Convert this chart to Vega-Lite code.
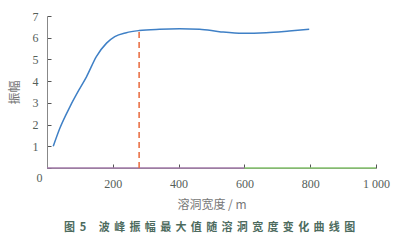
{
  "$schema": "https://vega.github.io/schema/vega-lite/v6.json",
  "width": 329,
  "height": 152,
  "autosize": {"type": "none"},
  "padding": {"left": 47, "top": 16, "right": 24, "bottom": 76},
  "background": "white",
  "config": {
    "view": {"stroke": null},
    "axis": {
      "labelOverlap": false,
      "labelFlush": false,
      "labelBound": false,
      "grid": false,
      "tickSize": -4,
      "tickColor": "#555",
      "domainColor": "#888",
      "labelFont": "Liberation Serif",
      "labelFontSize": 12,
      "labelColor": "#55605a",
      "titleFont": "Noto Sans CJK SC",
      "titleFontSize": 12,
      "titleFontWeight": "normal",
      "titleColor": "#777"
    }
  },
  "title": {
    "text": "图\u00a0\u00a05\u00a0\u00a0\u00a0\u00a0\u00a0波\u00a0\u2006峰\u00a0\u2006振\u00a0\u2006幅\u00a0\u2006最\u00a0\u2006大\u00a0\u2006值\u00a0\u2006随\u00a0\u2006溶\u00a0\u2006洞\u00a0\u2006宽\u00a0\u2006度\u00a0\u2006变\u00a0\u2006化\u00a0\u2006曲\u00a0\u2006线\u00a0\u2006图",
    "orient": "bottom",
    "anchor": "middle",
    "dx": -2,
    "offset": 12,
    "font": "Noto Sans CJK SC",
    "fontSize": 11,
    "fontWeight": "bold",
    "color": "#4d6b5e"
  },
  "datasets": {
    "curve": [
      {"w": 19, "a": 1.0},
      {"w": 39, "a": 1.83},
      {"w": 70, "a": 2.83},
      {"w": 100, "a": 3.67},
      {"w": 120, "a": 4.2},
      {"w": 150, "a": 5.13},
      {"w": 181, "a": 5.75},
      {"w": 206, "a": 6.05},
      {"w": 241, "a": 6.23},
      {"w": 280, "a": 6.33},
      {"w": 342, "a": 6.39},
      {"w": 403, "a": 6.41},
      {"w": 464, "a": 6.39},
      {"w": 524, "a": 6.28},
      {"w": 595, "a": 6.2},
      {"w": 666, "a": 6.23},
      {"w": 736, "a": 6.31},
      {"w": 797, "a": 6.39}
    ],
    "marker": [{"w": 280, "a0": 0, "a1": 6.33}],
    "base": [
      {"seg": "purple", "w0": 0, "w1": 600, "a": 0},
      {"seg": "green", "w0": 600, "w1": 1000, "a": 0}
    ]
  },
  "layer": [
    {
      "data": {"name": "base"},
      "mark": {"type": "rule", "strokeWidth": 1.3},
      "encoding": {
        "x": {"field": "w0", "type": "quantitative", "scale": {"domain": [0, 1000]},
          "axis": {
            "values": [0, 200, 400, 600, 800, 1000],
            "labelExpr": "datum.value == 0 ? '' : datum.value == 1000 ? '1 000' : datum.label",
            "labelPadding": 14,
            "title": "溶洞宽度 / m",
            "titlePadding": 10
          }
        },
        "x2": {"field": "w1"},
        "y": {"field": "a", "type": "quantitative", "scale": {"domain": [0, 7]},
          "axis": {
            "values": [0, 1, 2, 3, 4, 5, 6, 7],
            "tickCount": 8,
            "labelPadding": {"condition": {"test": "datum.value == 0", "value": 9}, "value": 13},
            "labelOffset": {"condition": {"test": "datum.value == 0", "value": 9}, "value": 0},
            "title": "振幅",
            "titlePadding": 11
          }
        },
        "color": {"field": "seg", "type": "nominal", "scale": {"domain": ["purple", "green"], "range": ["#a27aa8", "#86c46e"]}, "legend": null}
      }
    },
    {
      "data": {"name": "marker"},
      "mark": {"type": "rule", "color": "#e8693c", "strokeWidth": 1.5, "strokeDash": [6, 4]},
      "encoding": {
        "x": {"field": "w", "type": "quantitative", "axis": {"values": [0, 200, 400, 600, 800, 1000]}},
        "y": {"field": "a0", "type": "quantitative", "axis": {"values": [0, 1, 2, 3, 4, 5, 6, 7], "tickCount": 8}},
        "y2": {"field": "a1"}
      }
    },
    {
      "data": {"name": "curve"},
      "mark": {"type": "line", "color": "#3f80c6", "strokeWidth": 1.5, "interpolate": "monotone"},
      "encoding": {
        "x": {"field": "w", "type": "quantitative", "axis": {"values": [0, 200, 400, 600, 800, 1000]}},
        "y": {"field": "a", "type": "quantitative", "axis": {"values": [0, 1, 2, 3, 4, 5, 6, 7], "tickCount": 8}}
      }
    }
  ]
}
